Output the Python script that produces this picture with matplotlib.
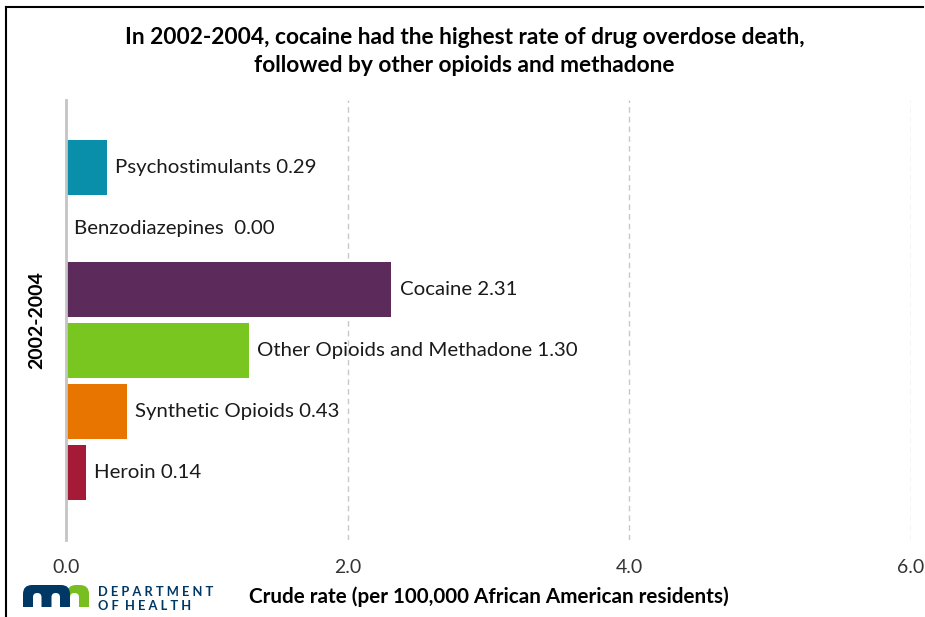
import matplotlib.pyplot as plt
from matplotlib.lines import Line2D
from matplotlib.patches import Rectangle, FancyBboxPatch

# data (bottom to top order in the chart)
drugs = ["Heroin", "Synthetic Opioids", "Other Opioids and Methadone",
         "Cocaine", "Benzodiazepines", "Psychostimulants"]
rates = [0.14, 0.43, 1.30, 2.31, 0.00, 0.29]
colors = ["#a51a36", "#e87500", "#78c61f", "#5d2a5c", "#ffffff", "#0a8fab"]
period = "2002-2004"

plt.rcParams['font.family'] = ['Lato', 'DejaVu Sans']

fig = plt.figure(figsize=(9.25, 6.17), dpi=100)
ax = fig.add_axes([0.0714, 0.1248, 0.9136, 0.7132])

ypos = list(range(len(drugs)))
ax.barh(ypos, rates, height=0.9, color=colors)

for y, name, val in zip(ypos, drugs, rates):
    sep = "  " if val == 0 else " "
    ax.annotate(f"{name}{sep}{val:.2f}", xy=(val, y), xytext=(6, 0),
                textcoords="offset points", va="center", ha="left",
                fontsize=14.7, color="#1a1a1a")

ax.set_xlim(0, 6)
ax.set_ylim(-1.11, 6.11)
ax.set_xticks([0, 2, 4, 6])
ax.set_xticklabels(["0.0", "2.0", "4.0", "6.0"])
ax.set_yticks([])
ax.tick_params(axis='x', length=0, labelsize=14, labelcolor="#333333", pad=14)
ax.grid(axis='x', linestyle=(0, (4, 3)), color="#c8c8c8", linewidth=1)
ax.set_axisbelow(True)
for s in ["top", "right", "bottom"]:
    ax.spines[s].set_visible(False)
ax.spines["left"].set_color("#c4c4c4")
ax.spines["left"].set_linewidth(2)
ax.spines["left"].set_zorder(5)

ax.set_xlabel("Crude rate (per 100,000 African American residents)",
              fontsize=14.9, fontweight="bold", labelpad=7.5)
ax.set_ylabel(period, fontsize=14, fontweight="bold", labelpad=15)

fig.suptitle("In 2002-2004, cocaine had the highest rate of drug overdose death,\n"
             "followed by other opioids and methadone",
             x=0.502, y=0.957, fontsize=16.4, fontweight="bold", linespacing=1.45)

# frame lines (top and left)
fig.add_artist(Line2D([6 / 925, 923 / 925], [1 - 7 / 617, 1 - 7 / 617],
                      transform=fig.transFigure, color="black", linewidth=1.5))
fig.add_artist(Line2D([6 / 925, 6 / 925], [0, 1 - 7 / 617],
                      transform=fig.transFigure, color="black", linewidth=1.5))

# MN Department of Health logo
blue, green = "#003865", "#78be20"
lax = fig.add_axes([23 / 925, 1 - 607 / 617, 66 / 925, 22 / 617])
lax.set_xlim(0, 66)
lax.set_ylim(0, 22)
lax.axis("off")


def rbox(x, y, w, h, r, c):
    lax.add_patch(FancyBboxPatch((x, y), w, h, boxstyle=f"round,pad=0,rounding_size={r}",
                                 color=c, lw=0))


# green "n" part
rbox(44, 0, 22, 22, 9, green)
lax.add_patch(Rectangle((56, 0), 10, 11, color=green, lw=0))
rbox(47, -6, 9, 20, 4.4, "white")
# blue "m"
rbox(0, 0, 47, 22, 9, blue)
lax.add_patch(Rectangle((0, 0), 47, 11, color=blue, lw=0))
rbox(10, -6, 8.5, 20, 4.2, "white")
rbox(28.5, -6, 8.5, 20, 4.2, "white")

fig.text(98 / 925, 1 - 592 / 617, "D E P A R T M E N T", fontsize=9.3,
         fontweight="bold", color=blue, va="center", ha="left")
fig.text(98 / 925, 1 - 606 / 617, "O F  H E A L T H", fontsize=9.3,
         fontweight="bold", color=blue, va="center", ha="left")

fig.savefig("out.png", dpi=100)
